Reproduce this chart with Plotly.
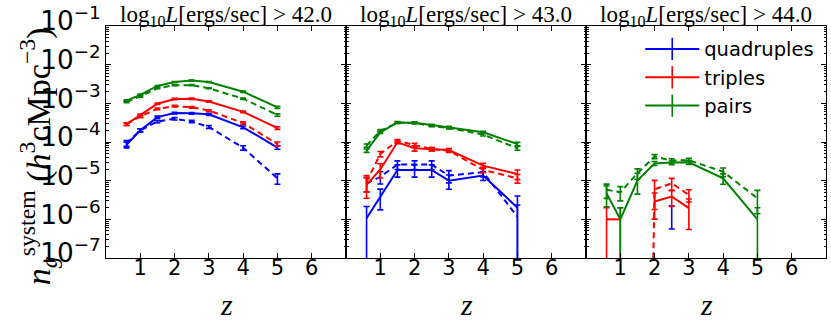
import plotly.graph_objects as go
from plotly.subplots import make_subplots

# redshift bins
Z = [0.6, 1.0, 1.5, 2.0, 2.5, 3.0, 4.0, 5.0]

# number density of systems, h^3 cMpc^-3 (solid / dashed), and relative errors (sigma / value)
# log10 L > 42.0
QUADS_42 = [8.5e-5, 2.0e-4, 4.4e-4, 5.6e-4, 5.5e-4, 5.2e-4, 2.4e-4, 7.2e-5]
QUADS_42_DASH = [9.3e-5, 2.0e-4, 3.4e-4, 4.0e-4, 3.4e-4, 2.45e-4, 7.1e-5, 1.15e-5]
TRIPLES_42 = [2.9e-4, 5.0e-4, 9.8e-4, 1.29e-3, 1.32e-3, 1.12e-3, 6.0e-4, 2.3e-4]
TRIPLES_42_DASH = [2.9e-4, 4.6e-4, 7.2e-4, 8.5e-4, 7.9e-4, 6.5e-4, 3.1e-4, 8.9e-5]
PAIRS_42 = [1.17e-3, 1.66e-3, 2.82e-3, 3.55e-3, 3.89e-3, 3.55e-3, 2.0e-3, 7.9e-4]
PAIRS_42_DASH = [1.10e-3, 1.51e-3, 2.45e-3, 2.95e-3, 2.95e-3, 2.45e-3, 1.32e-3, 5.0e-4]
QUADS_42_ERR = [0.17, 0.1, 0.06, 0.05, 0.05, 0.06, 0.08, 0.1]
QUADS_42_DASH_ERR = [0.17, 0.1, 0.07, 0.07, 0.07, 0.08, 0.13, 0.3]
TRIPLES_42_ERR = [0.08, 0.06, 0.04, 0.04, 0.04, 0.04, 0.05, 0.08]
TRIPLES_42_DASH_ERR = [0.08, 0.07, 0.05, 0.05, 0.05, 0.05, 0.07, 0.12]
PAIRS_42_ERR = [0.05, 0.04, 0.03, 0.03, 0.03, 0.03, 0.04, 0.06]
PAIRS_42_DASH_ERR = [0.05, 0.04, 0.03, 0.03, 0.03, 0.03, 0.04, 0.07]

# log10 L > 43.0
QUADS_43 = [1.07e-6, 3.9e-6, 1.9e-5, 1.9e-5, 1.9e-5, 1.0e-5, 1.35e-5, 2.0e-6]
QUADS_43_DASH = [8.5e-6, 1.26e-5, 2.6e-5, 2.6e-5, 2.6e-5, 1.35e-5, 1.66e-5, 1.17e-6]
TRIPLES_43 = [7.8e-6, 1.95e-5, 9.8e-5, 6.9e-5, 6.5e-5, 6.2e-5, 2.45e-5, 1.48e-5]
TRIPLES_43_DASH = [9.3e-6, 4.9e-5, 1.07e-4, 8.3e-5, 6.5e-5, 6.0e-5, 1.9e-5, 1.15e-5]
PAIRS_43 = [6.0e-5, 1.78e-4, 3.2e-4, 3.16e-4, 2.75e-4, 2.4e-4, 1.78e-4, 8.9e-5]
PAIRS_43_DASH = [8.1e-5, 1.95e-4, 3.16e-4, 3.1e-4, 2.6e-4, 2.3e-4, 1.55e-4, 6.9e-5]
QUADS_43_ERR = [1.0, 0.55, 0.35, 0.35, 0.35, 0.4, 0.25, 1.0]
QUADS_43_DASH_ERR = [0.4, 0.35, 0.25, 0.25, 0.25, 0.35, 0.25, 1.0]
TRIPLES_43_ERR = [0.55, 0.4, 0.08, 0.16, 0.1, 0.1, 0.14, 0.28]
TRIPLES_43_DASH_ERR = [0.45, 0.16, 0.08, 0.12, 0.1, 0.1, 0.16, 0.25]
PAIRS_43_ERR = [0.1, 0.07, 0.05, 0.05, 0.05, 0.06, 0.07, 0.1]
PAIRS_43_DASH_ERR = [0.1, 0.07, 0.05, 0.05, 0.05, 0.06, 0.08, 0.11]

# log10 L > 44.0
QUADS_44 = [None, None, None, None, 1.4e-6, None, None, None]
TRIPLES_44 = [1.0e-6, 1.0e-6, None, 2.9e-6, 3.9e-6, 1.95e-6, None, None]
TRIPLES_44_DASH = [0, 0, 0, 6.0e-6, 8.5e-6, 4.3e-6, None, None]
PAIRS_44 = [4.7e-6, 1.0e-6, 1.0e-5, 2.8e-5, 2.95e-5, 3.0e-5, 1.15e-5, 1.0e-6]
PAIRS_44_DASH = [5.8e-6, 5.0e-6, 1.55e-5, 4.2e-5, 3.3e-5, 3.4e-5, 1.7e-5, 3.5e-6]
QUADS_44_ERR = [0, 0, 0, 0, 0.6, 0, 0, 0]
TRIPLES_44_ERR = [1.0, 1.0, 0, 0.65, 0.45, 0.72, 0, 0]
TRIPLES_44_DASH_ERR = [0, 0, 0, 0.7, 0.35, 0.35, 0, 0]
PAIRS_44_ERR = [0.55, 1.0, 0.55, 0.12, 0.12, 0.12, 0.3, 1.0]
PAIRS_44_DASH_ERR = [0.4, 0.4, 0.3, 0.12, 0.12, 0.12, 0.25, 0.6]

TITLES = ["42.0", "43.0", "44.0"]
NAMES = ["quadruples", "triples", "pairs"]
COLORS = ["#0000ff", "#ff0000", "#008000"]

panels = [
    [(QUADS_42, QUADS_42_ERR, QUADS_42_DASH, QUADS_42_DASH_ERR),
     (TRIPLES_42, TRIPLES_42_ERR, TRIPLES_42_DASH, TRIPLES_42_DASH_ERR),
     (PAIRS_42, PAIRS_42_ERR, PAIRS_42_DASH, PAIRS_42_DASH_ERR)],
    [(QUADS_43, QUADS_43_ERR, QUADS_43_DASH, QUADS_43_DASH_ERR),
     (TRIPLES_43, TRIPLES_43_ERR, TRIPLES_43_DASH, TRIPLES_43_DASH_ERR),
     (PAIRS_43, PAIRS_43_ERR, PAIRS_43_DASH, PAIRS_43_DASH_ERR)],
    [(QUADS_44, QUADS_44_ERR, None, None),
     (TRIPLES_44, TRIPLES_44_ERR, TRIPLES_44_DASH, TRIPLES_44_DASH_ERR),
     (PAIRS_44, PAIRS_44_ERR, PAIRS_44_DASH, PAIRS_44_DASH_ERR)],
]


def err_arrays(vals, rel):
    """symmetric linear errors; lower bar reaches zero when rel >= 1"""
    up, dn = [], []
    for v, r in zip(vals, rel):
        if not v:
            up.append(0)
            dn.append(0)
        else:
            up.append(v * r)
            dn.append(v * min(r, 1.0))
    return up, dn


def floor_zero(vals):
    # zeros clipped to a tiny value, as matplotlib does on a log axis
    return [1e-30 if v == 0 else v for v in vals]


fig = make_subplots(rows=1, cols=3, shared_yaxes=True, horizontal_spacing=0)

for col, series in enumerate(panels, start=1):
    for name, color, (solid, solid_err, dash, dash_err) in zip(NAMES, COLORS, series):
        for vals, rel, style in [(solid, solid_err, "solid"), (dash, dash_err, "6px,4px")]:
            if vals is None:
                continue
            up, dn = err_arrays(vals, rel)
            fig.add_trace(go.Scatter(
                x=Z, y=floor_zero(vals),
                mode="lines",
                line=dict(color=color, width=2, dash=style),
                error_y=dict(type="data", array=up, arrayminus=dn, symmetric=False,
                             color=color, thickness=1.6, width=3),
                showlegend=False,
                connectgaps=False,
            ), row=1, col=col)

# legend entries (line with error-bar cross), drawn in the last panel
for name, color in zip(NAMES, COLORS):
    fig.add_trace(go.Scatter(
        x=[None], y=[None], name=name,
        mode="lines+markers",
        line=dict(color=color, width=2),
        marker=dict(symbol="line-ns", size=16, color=color, line=dict(width=1.6, color=color)),
        showlegend=True,
    ), row=1, col=3)

serif = "Liberation Serif"
for col in range(1, 4):
    fig.update_xaxes(
        range=[0, 7], tickvals=[1, 2, 3, 4, 5, 6],
        ticks="inside", ticklen=5, tickcolor="black",
        showline=True, linecolor="black", linewidth=1, mirror="ticks",
        showgrid=False, zeroline=False, automargin=False,
        ticklabelstandoff=-9,
        tickfont=dict(family="DejaVu Sans", size=21, color="black"),
        row=1, col=col,
    )
    fig.update_yaxes(
        type="log", range=[-7, -1], dtick=1, exponentformat="power",
        ticks="inside", ticklen=5, tickcolor="black",
        minor=dict(ticks="inside", ticklen=2.5, tickcolor="black", showgrid=False),
        showline=True, linecolor="black", linewidth=1, mirror="ticks",
        showgrid=False, zeroline=False, automargin=False,
        ticklabelshift=-5, ticklabeloverflow="allow",
        tickfont=dict(family="DejaVu Sans", size=21, color="black"),
        showticklabels=(col == 1),
        row=1, col=col,
    )
    fig.add_annotation(
        text=f"log<sub>10</sub><i>L</i>[ergs/sec] > {TITLES[col - 1]}",
        xref=f"x{'' if col == 1 else col} domain", yref="paper",
        x=0.5, y=1.0, xanchor="center", yanchor="middle", yshift=10,
        showarrow=False, font=dict(family=serif, size=23, color="black"),
    )
    fig.add_annotation(
        text="<i>z</i>",
        xref=f"x{'' if col == 1 else col} domain", yref="paper",
        x=0.5, y=-0.2, xanchor="center", yanchor="middle",
        showarrow=False, font=dict(family=serif, size=30, color="black"),
    )

fig.add_annotation(
    text="<i>n</i><sub><i>g</i></sub><sup>system</sup> (<i>h</i><sup>3</sup>cMpc<sup>−3</sup>)",
    xref="paper", yref="paper", x=-0.094, y=0.44, textangle=-90,
    xanchor="center", yanchor="middle", showarrow=False,
    font=dict(family=serif, size=34, color="black"),
)

fig.update_layout(
    width=831, height=326,
    margin=dict(l=106, r=5, t=26, b=68),
    paper_bgcolor="white", plot_bgcolor="white",
    showlegend=True,
    legend=dict(
        x=0.742, y=0.984, xanchor="left", yanchor="top",
        bgcolor="rgba(0,0,0,0)", borderwidth=0,
        font=dict(family="DejaVu Sans", size=19.5, color="black"),
        itemwidth=54,
    ),
)

# drop the default 8px page margin so the figure fills the window; no modebar
fig.write_html("out.html", config={"displayModeBar": False},
               post_script="document.body.style.margin = '0px';")
